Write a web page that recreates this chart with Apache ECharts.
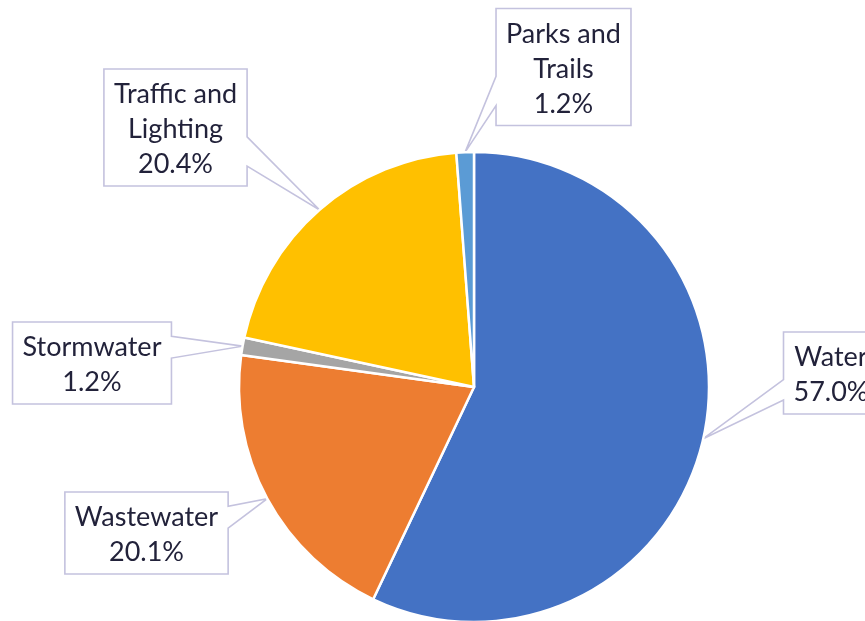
<!DOCTYPE html>
<html>
<head>
<meta charset="utf-8">
<script src="https://cdn.jsdelivr.net/npm/echarts@6/dist/echarts.min.js"></script>
<style>
  html, body { margin: 0; padding: 0; background: #ffffff; }
  #chart { width: 865px; height: 621px; }
</style>
</head>
<body>
<div id="chart"></div>
<script>
// Budget share by service area (percent of total)
const categories = ['Water', 'Wastewater', 'Stormwater', 'Traffic and Lighting', 'Parks and Trails'];
const labelNames = ['Water', 'Wastewater', 'Stormwater', 'Traffic and\nLighting', 'Parks and\nTrails'];
const shares = [57.0, 20.1, 1.2, 20.4, 1.2];
const sliceColors = ['#4472C4', '#ED7D31', '#A5A5A5', '#FFC000', '#5B9BD5'];

// Callout box centres in pixels, one per category
const calloutCentres = [[831, 373], [146.5, 533], [92, 363], [175.5, 127.5], [563.5, 67]];

const FONT_SIZE = 27;
const LINE_H = 35;
const TEXT_DY = 2;
const FONT_FAMILY = 'Lato';
const PAD_X = 10, PAD_Y = 6;
const BOX_STROKE = '#c4c2de';

const chart = echarts.init(document.getElementById('chart'), null, { renderer: 'canvas' });

const seriesData = categories.map((c, i) => ({
  name: c,
  value: shares[i],
  itemStyle: { color: sliceColors[i] }
}));

chart.setOption({
  animation: false,
  backgroundColor: '#ffffff',
  series: [{
    type: 'pie',
    center: [474, 387],
    radius: 235,
    startAngle: 90,
    clockwise: true,
    avoidLabelOverlap: false,
    data: seriesData,
    itemStyle: { borderColor: '#ffffff', borderWidth: 2.5 },
    emphasis: { disabled: true },
    labelLine: { show: false },
    label: {
      show: true,
      position: 'outside',
      formatter: p => labelNames[p.dataIndex] + '\n' + shares[p.dataIndex].toFixed(1) + '%',
      fontFamily: FONT_FAMILY,
      fontSize: FONT_SIZE,
      lineHeight: LINE_H,
      color: '#22223a',
      align: 'center'
    },
    labelLayout: p => ({
      x: calloutCentres[p.dataIndex][0],
      y: calloutCentres[p.dataIndex][1] + TEXT_DY,
      align: 'center',
      verticalAlign: 'middle'
    })
  }]
});

// Draw the callout shapes (box + pointer) behind the labels
function buildCallouts() {
  const data = chart.getModel().getSeriesByIndex(0).getData();
  const ctx = document.createElement('canvas').getContext('2d');
  ctx.font = FONT_SIZE + 'px ' + FONT_FAMILY;
  const shapes = [];
  categories.forEach((c, i) => {
    const lay = data.getItemLayout(i);
    const mid = (lay.startAngle + lay.endAngle) / 2;
    const tx = lay.cx + lay.r * Math.cos(mid);
    const ty = lay.cy + lay.r * Math.sin(mid);

    const lines = (labelNames[i] + '\n' + shares[i].toFixed(1) + '%').split('\n');
    const w = Math.max(...lines.map(l => ctx.measureText(l).width)) + 2 * PAD_X;
    const h = lines.length * LINE_H + 2 * PAD_Y;
    const [cx, cy] = calloutCentres[i];
    const x0 = cx - w / 2, x1 = cx + w / 2, y0 = cy - h / 2, y1 = cy + h / 2;

    const below = ty > cy;
    const f0 = below ? 0.58 : 0.175;
    const f1 = below ? 0.83 : 0.44;
    const b0 = y0 + f0 * h, b1 = y0 + f1 * h;

    let pts;
    if (tx > cx) {
      pts = [[x0, y0], [x1, y0], [x1, b0], [tx, ty], [x1, b1], [x1, y1], [x0, y1]];
    } else {
      pts = [[x0, y0], [x1, y0], [x1, y1], [x0, y1], [x0, b1], [tx, ty], [x0, b0]];
    }
    shapes.push({
      type: 'polygon',
      silent: true,
      z: 0,
      shape: { points: pts },
      style: { fill: '#ffffff', stroke: BOX_STROKE, lineWidth: 1.6, lineJoin: 'miter' }
    });
  });
  chart.setOption({ graphic: { elements: shapes } });
}
buildCallouts();
</script>
</body>
</html>
